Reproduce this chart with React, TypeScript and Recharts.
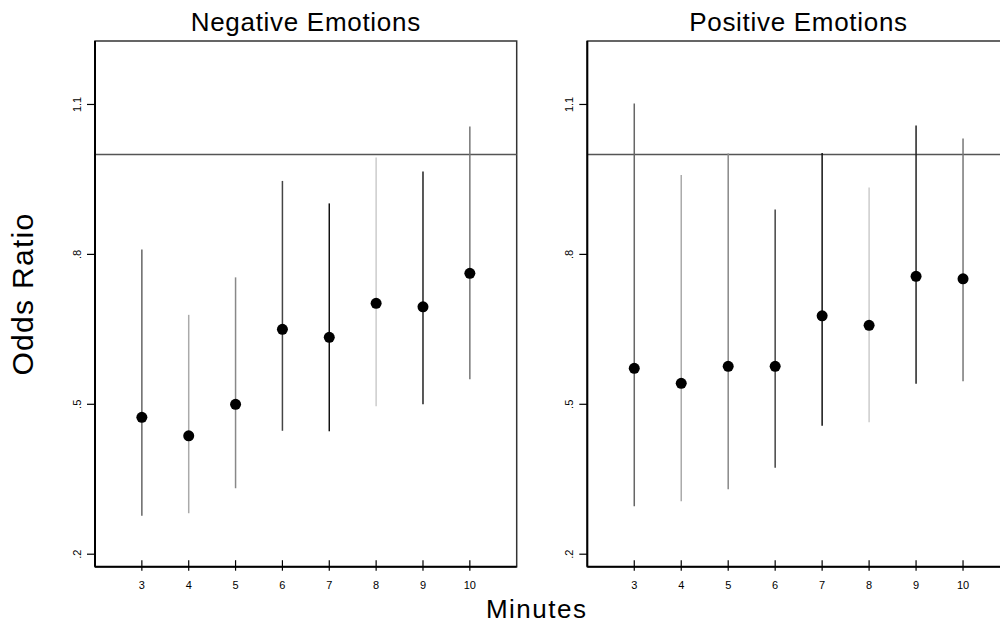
import {
  ErrorBar,
  ReferenceArea,
  ReferenceLine,
  Scatter,
  ScatterChart,
  XAxis,
  YAxis,
} from "recharts";

const MINUTES = [3, 4, 5, 6, 7, 8, 9, 10];

const NEG_OR = [0.474, 0.437, 0.5, 0.65, 0.634, 0.702, 0.695, 0.762];
const NEG_LO = [0.277, 0.282, 0.332, 0.447, 0.446, 0.496, 0.5, 0.55];
const NEG_HI = [0.81, 0.679, 0.754, 0.947, 0.902, 0.994, 0.966, 1.056];

const POS_OR = [0.572, 0.542, 0.576, 0.576, 0.677, 0.658, 0.756, 0.751];
const POS_LO = [0.296, 0.306, 0.33, 0.373, 0.457, 0.464, 0.541, 0.546];
const POS_HI = [1.102, 0.959, 1.002, 0.89, 1.003, 0.934, 1.058, 1.032];

const Y_TICKS = [0.2, 0.5, 0.8, 1.1];
const Y_LABELS = [".2", ".5", ".8", "1.1"];

const WHISKER_COLORS = ["#666", "#aaa", "#888", "#444", "#111", "#ccc", "#222", "#777"];

const X_DOMAIN: [number, number] = [2, 11];
const Y_DOMAIN: [number, number] = [0.175, 1.227];
const FONT = "'Liberation Sans', Arial, sans-serif";

const XTick = ({ x, y, payload }: any) => (
  <g>
    <line x1={x} y1={y - 6.5} x2={x} y2={y + 4} stroke="#000" strokeWidth={1.2} />
    <text x={x} y={y + 22} textAnchor="middle" fontSize={11} fontFamily={FONT} fill="#000">
      {payload.value}
    </text>
  </g>
);

const YTick = ({ x, y, payload }: any) => {
  const i = Y_TICKS.indexOf(payload.value);
  return (
    <text
      x={x - 6}
      y={y}
      transform={`rotate(-90, ${x - 6}, ${y})`}
      textAnchor="middle"
      fontSize={11}
      fontFamily={FONT}
      fill="#000"
    >
      {i >= 0 ? Y_LABELS[i] : payload.value}
    </text>
  );
};

const Dot = ({ cx, cy }: any) => <circle cx={cx} cy={cy} r={5.5} fill="#000" />;

type PanelProps = {
  or: number[];
  lo: number[];
  hi: number[];
  left: number;
  margin: { top: number; right: number; bottom: number; left: number };
};

function Panel({ or, lo, hi, left, margin }: PanelProps) {
  return (
    <div style={{ position: "absolute", left, top: 0 }}>
      <ScatterChart width={520} height={626} margin={margin}>
        <XAxis
          type="number"
          dataKey="x"
          domain={X_DOMAIN}
          ticks={MINUTES}
          allowDataOverflow
          height={30}
          tickSize={0}
          tickMargin={0}
          tickLine={false}
          tick={<XTick />}
          axisLine={{ stroke: "#000", strokeWidth: 2 }}
        />
        <YAxis
          type="number"
          dataKey="y"
          domain={Y_DOMAIN}
          ticks={Y_TICKS}
          allowDataOverflow
          width={30}
          tickSize={8}
          tickMargin={0}
          tickLine={{ stroke: "#000", strokeWidth: 1.2 }}
          tick={<YTick />}
          axisLine={{ stroke: "#000", strokeWidth: 2 }}
        />
        <ReferenceArea
          x1={X_DOMAIN[0]}
          x2={X_DOMAIN[1]}
          y1={Y_DOMAIN[0]}
          y2={Y_DOMAIN[1]}
          fill="none"
          stroke="#333"
          strokeWidth={1.5}
        />
        <ReferenceLine y={1} stroke="#555" strokeWidth={1.5} />
        {MINUTES.map((m, i) => (
          <Scatter
            key={m}
            data={[{ x: m, y: or[i], err: [or[i] - lo[i], hi[i] - or[i]] }]}
            shape={<Dot />}
            isAnimationActive={false}
          >
            <ErrorBar
              dataKey="err"
              direction="y"
              width={0}
              stroke={WHISKER_COLORS[i]}
              strokeWidth={1.5}
            />
          </Scatter>
        ))}
      </ScatterChart>
    </div>
  );
}

export default function App() {
  return (
    <div
      style={{
        position: "fixed",
        left: 0,
        top: 0,
        width: 1000,
        height: 626,
        overflow: "hidden",
        background: "#fff",
      }}
    >
      <Panel
        or={NEG_OR}
        lo={NEG_LO}
        hi={NEG_HI}
        left={0}
        margin={{ top: 41, right: 3.3, bottom: 29.3, left: 65 }}
      />
      <Panel
        or={POS_OR}
        lo={POS_LO}
        hi={POS_HI}
        left={500}
        margin={{ top: 41, right: 10, bottom: 29.3, left: 57.3 }}
      />
      <svg
        width={1000}
        height={626}
        style={{ position: "absolute", left: 0, top: 0, pointerEvents: "none" }}
      >
        <text x={305.8} y={31} textAnchor="middle" fontSize={26} letterSpacing={0.7} fontFamily={FONT} fill="#000">
          Negative Emotions
        </text>
        <text x={798.5} y={31} textAnchor="middle" fontSize={26} letterSpacing={0.7} fontFamily={FONT} fill="#000">
          Positive Emotions
        </text>
        <text x={536.7} y={618} textAnchor="middle" fontSize={26} letterSpacing={1.5} fontFamily={FONT} fill="#000">
          Minutes
        </text>
        <text
          x={33}
          y={294}
          transform="rotate(-90, 33, 294)"
          textAnchor="middle"
          fontSize={30}
          letterSpacing={1.3}
          fontFamily={FONT}
          fill="#000"
        >
          Odds Ratio
        </text>
      </svg>
    </div>
  );
}
